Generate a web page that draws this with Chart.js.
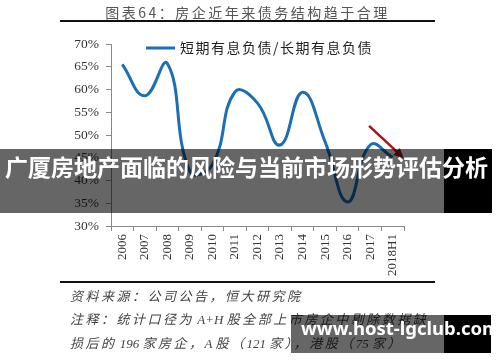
<!DOCTYPE html>
<html>
<head>
<meta charset="utf-8">
<script src="https://cdn.jsdelivr.net/npm/chart.js@4/dist/chart.umd.min.js"></script>
<style>
  body { margin: 0; background: #fff; }
  #page { position: relative; width: 500px; height: 362px; overflow: hidden; background: #fff; }
  #chart { position: absolute; left: 0; top: 0; }
  #title {
    position: absolute; left: 60px; top: 2px; width: 375px; text-align: center;
    font: 14px "Noto Sans CJK SC", serif; color: #555; letter-spacing: 2.5px; white-space: nowrap;
  }
  .rule { position: absolute; left: 60px; width: 375px; height: 2px; background: #111; }
  .note {
    position: absolute; left: 70px; font: italic 13px "Liberation Serif", "Noto Sans CJK SC", serif;
    color: #444; letter-spacing: 2.5px; white-space: nowrap;
  }
  .note .lat { letter-spacing: 0; }
  .shade { position: absolute; background: rgba(0,0,0,0.6); }
  .black { position: absolute; background: #000; }
  #banner {
    position: absolute; left: 5px; top: 149px; height: 64px; line-height: 64px;
    font: bold 23px "Noto Sans CJK SC", sans-serif; color: #fff; white-space: nowrap;
  }
  #mark {
    position: absolute; left: 301px; top: 315px; height: 38px; line-height: 38px;
    font: bold 18.5px "Noto Sans", sans-serif; color: #fff; white-space: nowrap;
  }
</style>
</head>
<body>
<div id="page">
  <canvas id="chart" width="500" height="362"></canvas>
  <div id="title">图表64：房企近年来债务结构趋于合理</div>
  <div class="rule" style="top:20px"></div>
  <div class="rule" style="top:281px"></div>
  <div class="note" style="top:286px">资料来源：公司公告，恒大研究院</div>
  <div class="note" style="top:309px">注释：统计口径为<span class="lat"> A+H </span>股全部上市房企中剔除数据缺</div>
  <div class="note" style="top:333px">损后的<span class="lat"> 196 </span>家房企，<span class="lat">A </span>股（<span class="lat">121 </span>家），港股（<span class="lat">75 </span>家）</div>
  <div class="shade" style="left:0;top:149px;width:444px;height:64px"></div>
  <div class="black" style="left:444px;top:149px;width:48px;height:64px"></div>
  <div id="banner">广厦房地产面临的风险与当前市场形势评估分析</div>
  <div class="shade" style="left:291px;top:315px;width:153px;height:38px"></div>
  <div class="black" style="left:444px;top:315px;width:47px;height:38px"></div>
  <div id="mark">www.host-lgclub.com</div>
</div>
<script>
// === DATA ===
const years = ["2006", "2007", "2008", "2009", "2010", "2011", "2012", "2013", "2014", "2015", "2016", "2017", "2018H1"];
const debtRatio = [65.5, 58.6, 65.7, 42.0, 43.5, 59.5, 57.0, 47.8, 59.4, 48.5, 35.3, 47.8, 45.1];
const seriesLabel = "短期有息负债/长期有息负债";
// arrow: [category index, value %]
const arrowFrom = [10.95, 52.0];
const arrowTo = [12.49, 44.9];

const blue = "#1b6fb5";
const axisGray = "#8a8a8a";

// red trend arrow, placed through the scales
const arrowPlugin = {
  id: "trendArrow",
  afterDatasetsDraw(chart) {
    const { ctx, scales: { x, y } } = chart;
    const x1 = x.getPixelForValue(arrowFrom[0]), y1 = y.getPixelForValue(arrowFrom[1]);
    const x2 = x.getPixelForValue(arrowTo[0]), y2 = y.getPixelForValue(arrowTo[1]);
    const ang = Math.atan2(y2 - y1, x2 - x1);
    const head = 11;
    ctx.save();
    ctx.strokeStyle = "#a8141a";
    ctx.fillStyle = "#a8141a";
    ctx.lineWidth = 2.5;
    ctx.beginPath();
    ctx.moveTo(x1, y1);
    ctx.lineTo(x2 - Math.cos(ang) * head * 0.8, y2 - Math.sin(ang) * head * 0.8);
    ctx.stroke();
    ctx.beginPath();
    ctx.moveTo(x2, y2);
    ctx.lineTo(x2 - head * Math.cos(ang - 0.45), y2 - head * Math.sin(ang - 0.45));
    ctx.lineTo(x2 - head * Math.cos(ang + 0.45), y2 - head * Math.sin(ang + 0.45));
    ctx.closePath();
    ctx.fill();
    ctx.restore();
  }
};

// legend sits inside the plot, near the top
const insideLegend = {
  id: "insideLegend",
  afterDraw(chart) {
    const { ctx, chartArea } = chart;
    const ds = chart.data.datasets[0];
    const lx = chartArea.left + 35, ly = chartArea.top + 4;
    ctx.save();
    ctx.strokeStyle = ds.borderColor;
    ctx.lineWidth = 3;
    ctx.beginPath();
    ctx.moveTo(lx, ly);
    ctx.lineTo(lx + 29, ly);
    ctx.stroke();
    ctx.fillStyle = "#222";
    ctx.font = "14px 'Noto Sans CJK SC', serif";
    ctx.letterSpacing = "1.5px";
    ctx.textBaseline = "middle";
    ctx.fillText(ds.label, lx + 34, ly);
    ctx.restore();
  }
};

new Chart(document.getElementById("chart"), {
  type: "line",
  data: {
    labels: years,
    datasets: [{
      label: seriesLabel,
      data: debtRatio,
      borderColor: blue,
      backgroundColor: blue,
      borderWidth: 3,
      pointRadius: 0,
      tension: 0.45,
      fill: false
    }]
  },
  options: {
    responsive: false,
    animation: false,
    layout: { padding: { left: 0, top: 44, right: 96, bottom: 0 } },
    plugins: {
      tooltip: { enabled: false },
      legend: { display: false }
    },
    scales: {
      x: {
        offset: true,
        afterFit: s => { s.height = 136; },
        border: { color: axisGray, width: 1 },
        grid: { display: true, drawOnChartArea: false, tickLength: 5, color: axisGray, offset: true },
        ticks: {
          minRotation: 90, maxRotation: 90, padding: 3, autoSkip: false,
          color: "#333", font: { family: "'Liberation Serif', serif", size: 13 }
        }
      },
      y: {
        min: 30, max: 70,
        afterFit: s => { s.width = 111; },
        border: { color: axisGray, width: 1 },
        grid: { display: true, drawOnChartArea: false, tickLength: 5, color: axisGray },
        ticks: {
          stepSize: 5, padding: 7,
          color: "#333", font: { family: "'Liberation Serif', serif", size: 13.5 },
          callback: v => v + "%"
        }
      }
    }
  },
  plugins: [arrowPlugin, insideLegend]
});
</script>
</body>
</html>
